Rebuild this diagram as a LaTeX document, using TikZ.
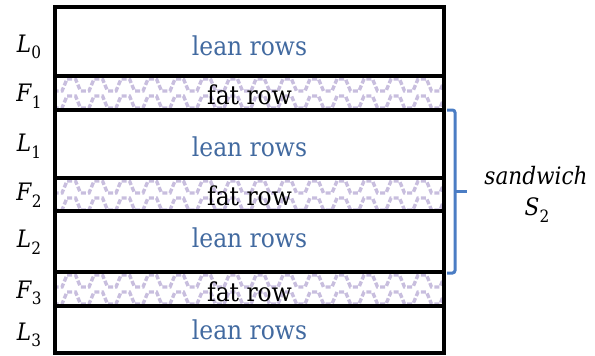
\documentclass[tikz,border=0pt]{standalone}
\usepackage{fontspec}
\setmainfont{DejaVu Serif}[FakeStretch=0.9]
\definecolor{leanblue}{RGB}{66,106,160}
\definecolor{wavecol}{RGB}{200,190,222}
\definecolor{bracketblue}{RGB}{75,125,196}
\tikzset{
  rowbox/.style={draw=black, line width=3.5pt, minimum width=389pt, inner sep=0pt, outer sep=0pt},
  leantext/.style={text=leanblue, font=\fontsize{26}{32}\selectfont, inner sep=0pt},
  fattext/.style={text=black, font=\fontsize{26}{32}\selectfont, inner sep=0pt},
  rowlabel/.style={font=\fontsize{24}{30}\selectfont, inner sep=0pt},
  wavepat/.style={draw=wavecol, line width=3.4pt, dash pattern=on 5pt off 2.2pt},
  bracketline/.style={draw=bracketblue, line width=3pt, rounded corners=2.5pt},
  sidetext/.style={font=\fontsize{24}{30}\selectfont\itshape, inner sep=0pt}
}
\newcommand{\rowlab}[2]{\textit{#1}\raisebox{-0.28em}{\fontsize{17}{18}\selectfont #2}}
\begin{document}
\begin{tikzpicture}[x=1pt,y=-1pt]
\useasboundingbox (0,0) rectangle (595,356);
% wave patterns in fat rows
\foreach \t/\b in {76/110, 178/211, 272/306}{
  \begin{scope}
    \clip (55,\t) rectangle (444,\b);
    \foreach \k in {0,1}{
      \pgfmathsetmacro{\yt}{\t+3+17*\k}
      \pgfmathsetmacro{\yb}{\t+15+17*\k}
      \draw[wavepat] (40,\yt) \foreach \i in {0,...,15}{
        -- ({40+27*\i+8.5},\yt) -- ({40+27*\i+13.5},\yb) -- ({40+27*\i+22},\yb) -- ({40+27*(\i+1)},\yt) };
    }
  \end{scope}
}
% row boxes
\node[rowbox, minimum height=69pt] (L0) at (249.5,41.5) {};
\node[rowbox, minimum height=34pt] (F1) at (249.5,93) {};
\node[rowbox, minimum height=68pt] (L1) at (249.5,144) {};
\node[rowbox, minimum height=33pt] (F2) at (249.5,194.5) {};
\node[rowbox, minimum height=61pt] (L2) at (249.5,241.5) {};
\node[rowbox, minimum height=34pt] (F3) at (249.5,289) {};
\node[rowbox, minimum height=47pt] (L3) at (249.5,329.5) {};
% texts
\node[leantext] (tL0) at (249.5,46) {lean rows};
\node[fattext] (tF1) at (249.5,95) {fat row};
\node[leantext] (tL1) at (249.5,147) {lean rows};
\node[fattext] (tF2) at (249.5,196) {fat row};
\node[leantext] (tL2) at (249.5,238) {lean rows};
\node[fattext] (tF3) at (249.5,292) {fat row};
\node[leantext] (tL3) at (249.5,330) {lean rows};
% left labels
\node[rowlabel] (lL0) at (29,47) {\rowlab{L}{0}};
\node[rowlabel] (lF1) at (29,96) {\rowlab{F}{1}};
\node[rowlabel] (lL1) at (29,146) {\rowlab{L}{1}};
\node[rowlabel] (lF2) at (29,195) {\rowlab{F}{2}};
\node[rowlabel] (lL2) at (29,242) {\rowlab{L}{2}};
\node[rowlabel] (lF3) at (29,293) {\rowlab{F}{3}};
\node[rowlabel] (lL3) at (29,335) {\rowlab{L}{3}};
% bracket
\coordinate (bt) at (447,110);
\coordinate (bb) at (447,273);
\coordinate (bm) at (455,191);
\coordinate (btip) at (467,191);
\draw[bracketline] (bt) -- (455,110) -- (455,273) -- (bb);
\draw[bracketline] (bm) -- (btip);
% side text
\node[sidetext] (sw) at (536,176) {sandwich};
\node[rowlabel] (s2) at (537,210) {\rowlab{S}{2}};
\end{tikzpicture}
\end{document}
